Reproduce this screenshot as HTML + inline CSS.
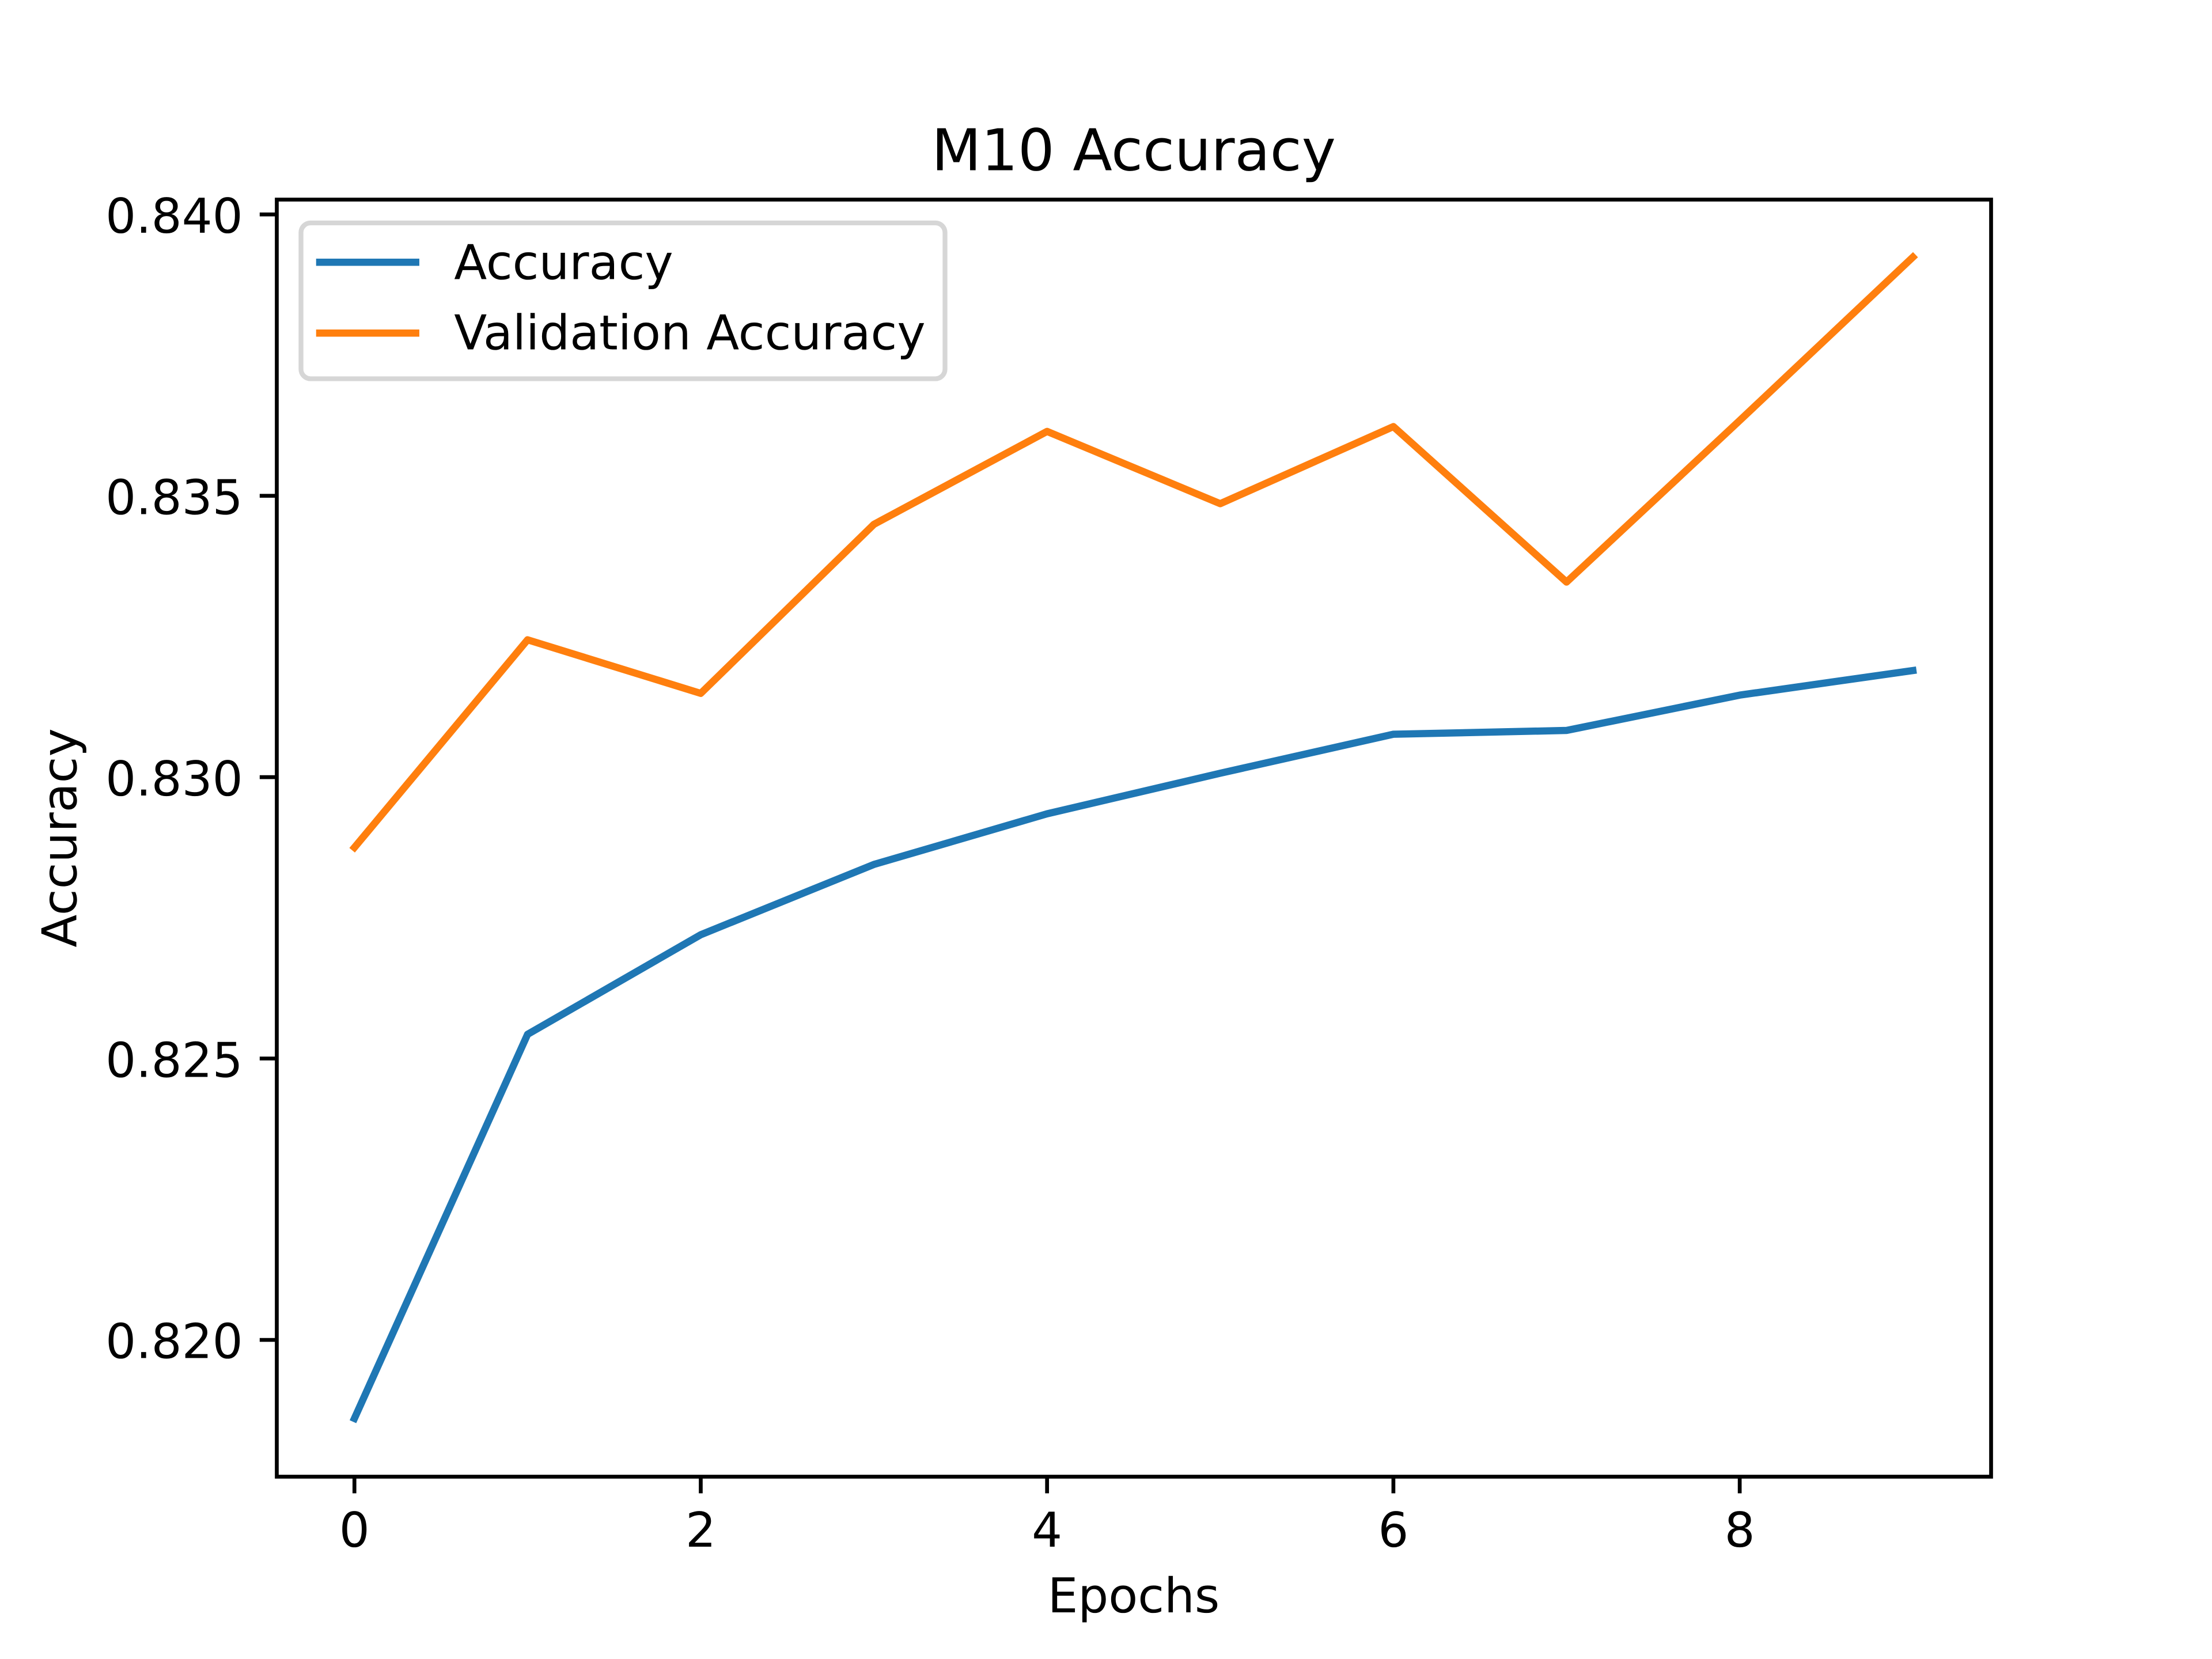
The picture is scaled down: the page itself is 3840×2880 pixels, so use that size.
<!DOCTYPE html>
<html lang="en">
<head>
<meta charset="utf-8">
<title>M10 Accuracy</title>
<style>
html,body{margin:0;padding:0;background:#fff;width:3840px;height:2880px;overflow:hidden}
svg{display:block}
text{font-family:"DejaVu Sans","Liberation Sans",sans-serif;fill:#000;text-rendering:geometricPrecision}
</style>
</head>
<body>
<svg id="chart" xmlns="http://www.w3.org/2000/svg" width="3840" height="2880" viewBox="0 0 3840 2880">
  <rect x="0" y="0" width="3840" height="2880" fill="#ffffff"/>
  <g id="series-layer"></g>
  <g id="tick-layer"></g>
  <rect x="480.5" y="346.5" width="2976" height="2217" fill="none" stroke="#000" stroke-width="6.67" stroke-linejoin="miter"/>
  <text x="1968" y="295.7" font-size="100" text-anchor="middle">M10 Accuracy</text>
  <text x="1968" y="2799" font-size="83.33" text-anchor="middle">Epochs</text>
  <text x="0" y="0" font-size="83.33" text-anchor="middle" transform="translate(132.5 1454.4) rotate(-90)">Accuracy</text>
  <g>
    <rect x="522.5" y="387" width="1118" height="270.5" rx="16.67" ry="16.67" fill="#ffffff" fill-opacity="0.8" stroke="#d6d6d6" stroke-width="8.33"/>
    <line x1="555" y1="455.3" x2="721.7" y2="455.3" stroke="#1f77b4" stroke-width="12.5" stroke-linecap="square"/>
    <text x="788.3" y="484.3" font-size="83.33">Accuracy</text>
    <line x1="555" y1="578.3" x2="721.7" y2="578.3" stroke="#ff7f0e" stroke-width="12.5" stroke-linecap="square"/>
    <text x="788.3" y="606.7" font-size="83.33">Validation Accuracy</text>
  </g>
</svg>
<script>
const epochs = [0, 1, 2, 3, 4, 5, 6, 7, 8, 9];
const accuracyValues = [0.818604, 0.825430, 0.827200, 0.828449, 0.829349, 0.830070, 0.830763, 0.830830, 0.831458, 0.831895];
const validationValues = [0.828750, 0.832441, 0.831489, 0.834493, 0.836144, 0.834860, 0.836230, 0.833467, 0.836338, 0.839241];
const xTickValues = [0, 2, 4, 6, 8];
const xTickLabels = ["0", "2", "4", "6", "8"];
const yTickValues = [0.820, 0.825, 0.830, 0.835, 0.840];
const yTickLabels = ["0.820", "0.825", "0.830", "0.835", "0.840"];

const NS = "http://www.w3.org/2000/svg";
const plot = { left: 480, right: 3456, top: 345.6, bottom: 2563.2 };

function extent(values) {
  const lo = Math.min.apply(null, values);
  const hi = Math.max.apply(null, values);
  const pad = (hi - lo) * 0.05;
  return [lo - pad, hi + pad];
}
const xDomain = extent(epochs);
const yDomain = extent(accuracyValues.concat(validationValues));

function xScale(v) {
  return plot.left + (v - xDomain[0]) / (xDomain[1] - xDomain[0]) * (plot.right - plot.left);
}
function yScale(v) {
  return plot.bottom - (v - yDomain[0]) / (yDomain[1] - yDomain[0]) * (plot.bottom - plot.top);
}

function linePoints(values) {
  return values.map(function (v, i) {
    return xScale(epochs[i]).toFixed(2) + "," + yScale(v).toFixed(2);
  }).join(" ");
}

const seriesLayer = document.getElementById("series-layer");
const tickLayer = document.getElementById("tick-layer");

const accuracyLine = document.createElementNS(NS, "polyline");


accuracyLine.setAttribute("points", linePoints(accuracyValues));
accuracyLine.setAttribute("fill", "none");
accuracyLine.setAttribute("stroke", "#1f77b4");
accuracyLine.setAttribute("stroke-width", "12.5");
accuracyLine.setAttribute("stroke-linecap", "square");
accuracyLine.setAttribute("stroke-linejoin", "round");
seriesLayer.appendChild(accuracyLine);

const validationLine = document.createElementNS(NS, "polyline");


validationLine.setAttribute("points", linePoints(validationValues));
validationLine.setAttribute("fill", "none");
validationLine.setAttribute("stroke", "#ff7f0e");
validationLine.setAttribute("stroke-width", "12.5");
validationLine.setAttribute("stroke-linecap", "square");
validationLine.setAttribute("stroke-linejoin", "round");
seriesLayer.appendChild(validationLine);

xTickValues.forEach(function (v, i) {
  const x = xScale(v);
  const mark = document.createElementNS(NS, "line");
  
  
  mark.setAttribute("x1", x);
  mark.setAttribute("x2", x);
  mark.setAttribute("y1", plot.bottom);
  mark.setAttribute("y2", plot.bottom + 29.17);
  mark.setAttribute("stroke", "#000");
  mark.setAttribute("stroke-width", "6.67");
  tickLayer.appendChild(mark);

  const label = document.createElementNS(NS, "text");
  
  
  label.setAttribute("x", x);
  label.setAttribute("y", 2685);
  label.setAttribute("font-size", "83.33");
  label.setAttribute("text-anchor", "middle");
  label.textContent = xTickLabels[i];
  tickLayer.appendChild(label);
});

yTickValues.forEach(function (v, i) {
  const y = yScale(v);
  const mark = document.createElementNS(NS, "line");
  
  
  mark.setAttribute("x1", plot.left - 29.17);
  mark.setAttribute("x2", plot.left);
  mark.setAttribute("y1", y);
  mark.setAttribute("y2", y);
  mark.setAttribute("stroke", "#000");
  mark.setAttribute("stroke-width", "6.67");
  tickLayer.appendChild(mark);

  const label = document.createElementNS(NS, "text");
  
  
  label.setAttribute("x", 421.7);
  label.setAttribute("y", y + 31.7);
  label.setAttribute("font-size", "83.33");
  label.setAttribute("text-anchor", "end");
  label.textContent = yTickLabels[i];
  tickLayer.appendChild(label);
});
</script>
</body>
</html>
